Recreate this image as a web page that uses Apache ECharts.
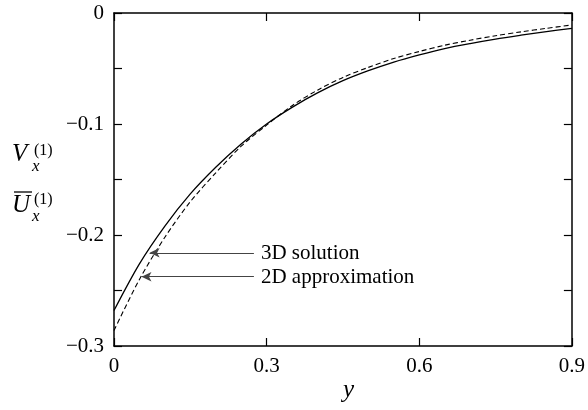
<!DOCTYPE html>
<html>
<head>
<meta charset="utf-8">
<script src="https://cdn.jsdelivr.net/npm/echarts@6/dist/echarts.min.js"></script>
<style>
  html, body { margin: 0; padding: 0; background: #fff; }
  #chart { width: 588px; height: 410px; }
</style>
</head>
<body>
<div id="chart"></div>
<script>
// y positions along the bottom axis
const yPos = [0, 0.05, 0.1, 0.15, 0.2, 0.25, 0.3, 0.35, 0.4, 0.45,
  0.5, 0.55, 0.6, 0.65, 0.7, 0.75, 0.8, 0.85, 0.9];
// 3D solution (solid)
const solution3D = [-0.268, -0.226, -0.192, -0.163, -0.139, -0.118, -0.1,
  -0.085, -0.072, -0.061, -0.052, -0.0442, -0.0377, -0.032, -0.0275,
  -0.0235, -0.02, -0.0167, -0.0138];
// 2D approximation (dashed)
const approx2D = [-0.286, -0.24, -0.202, -0.17, -0.144, -0.12, -0.101,
  -0.0835, -0.0695, -0.058, -0.049, -0.041, -0.0347, -0.029, -0.0245,
  -0.0205, -0.017, -0.0138, -0.0108];

// annotation arrows: [label, arrow y value, tip x, tail x]
const notes = [
  ["3D solution", -0.216, 0.07, 0.275],
  ["2D approximation", -0.2376, 0.054, 0.275]
];

const font = "'Liberation Serif', 'DejaVu Serif', serif";
const chart = echarts.init(document.getElementById("chart"));

const fmt = v => {
  const r = Math.round(v * 100) / 100;
  if (r === 0) return "0";
  return (r < 0 ? "\u2212" : "") + Math.abs(r).toString();
};

const axisCommon = {
  axisLine: { show: true, onZero: false, lineStyle: { color: "#000", width: 1.5 } },
  axisTick: { show: true, inside: true, length: 8, lineStyle: { color: "#000", width: 1.2 } },
  splitLine: { show: false }
};

chart.setOption({
  animation: false,
  grid: { left: 114, right: 13, top: 13, bottom: 64 },
  xAxis: [
    {
      ...axisCommon,
      type: "value", min: 0, max: 0.9, interval: 0.3, position: "bottom",
      axisLabel: {
        margin: 10, color: "#000", fontFamily: font, fontSize: 21,
        formatter: v => fmt(v)
      }
    },
    {
      ...axisCommon,
      type: "value", min: 0, max: 0.9, interval: 0.3, position: "top",
      axisLabel: { show: false }
    }
  ],
  yAxis: [
    {
      ...axisCommon,
      type: "value", min: -0.3, max: 0, interval: 0.05, position: "left",
      axisLabel: {
        margin: 10, color: "#000", fontFamily: font, fontSize: 21,
        formatter: v => (Math.round(v * 100) % 10 === 0 ? fmt(v) : "")
      }
    },
    {
      ...axisCommon,
      type: "value", min: -0.3, max: 0, interval: 0.05, position: "right",
      axisLabel: { show: false }
    }
  ],
  series: [
    {
      name: "3D solution", type: "line", smooth: 0.3, showSymbol: false,
      data: yPos.map((x, i) => [x, solution3D[i]]),
      lineStyle: { color: "#000", width: 1.3 },
      z: 3
    },
    {
      name: "2D approximation", type: "line", smooth: 0.3, showSymbol: false,
      data: yPos.map((x, i) => [x, approx2D[i]]),
      lineStyle: { color: "#000", width: 1.1, type: [5, 3] },
      markLine: {
        silent: true,
        symbol: ["none", "arrow"],
        symbolSize: [7, 10],
        label: { show: false },
        lineStyle: { color: "#444", width: 1, type: "solid" },
        data: notes.map(n => [
          { coord: [n[3], n[1]] },
          { coord: [n[2], n[1]] }
        ])
      }
    }
  ]
});

// axis names and annotation texts
const labelAt = (x, y) => chart.convertToPixel({ gridIndex: 0 }, [x, y]);
const noteTexts = notes.map(n => {
  const p = labelAt(n[3], n[1]);
  return {
    type: "text", left: p[0] + 7, top: p[1] - 10,
    style: { text: n[0], font: "21px " + font, fill: "#000" }
  };
});

chart.setOption({
  graphic: [
    ...noteTexts,
    { type: "text", left: 343, top: 378,
      style: { text: "y", font: "italic 25px " + font, fill: "#000" } },
    // V_x^(1)
    { type: "text", left: 12, top: 142,
      style: { text: "V", font: "italic 25px " + font, fill: "#000" } },
    { type: "text", left: 34, top: 143,
      style: { text: "(1)", font: "16px " + font, fill: "#000" } },
    { type: "text", left: 32, top: 158,
      style: { text: "x", font: "italic 17px " + font, fill: "#000" } },
    // U-bar_x^(1)
    { type: "line", shape: { x1: 14, y1: 192, x2: 32, y2: 192 },
      style: { stroke: "#000", lineWidth: 1.3 } },
    { type: "text", left: 12, top: 193,
      style: { text: "U", font: "italic 25px " + font, fill: "#000" } },
    { type: "text", left: 34, top: 192,
      style: { text: "(1)", font: "16px " + font, fill: "#000" } },
    { type: "text", left: 32, top: 208,
      style: { text: "x", font: "italic 17px " + font, fill: "#000" } }
  ]
});
</script>
</body>
</html>
